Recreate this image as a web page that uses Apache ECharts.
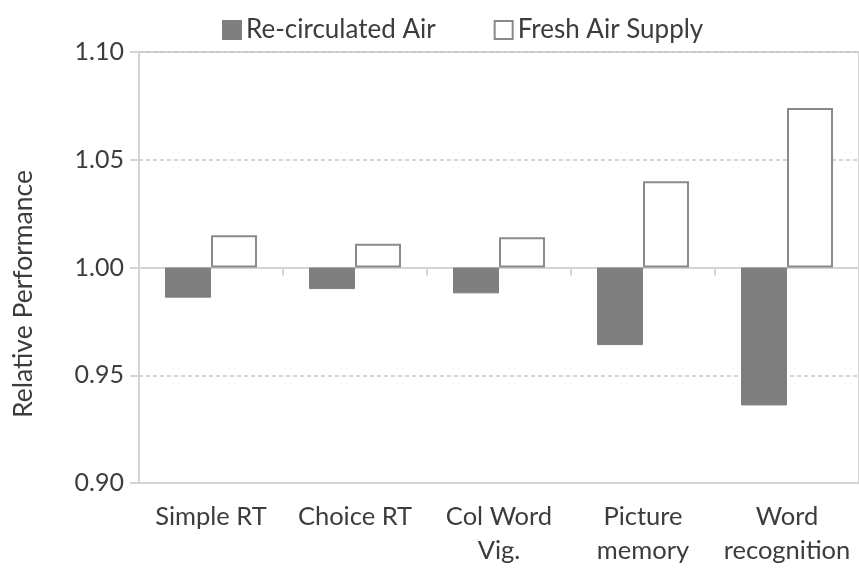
<!DOCTYPE html>
<html><head><meta charset="utf-8">
<script src="https://cdn.jsdelivr.net/npm/echarts@6/dist/echarts.min.js"></script>
<style>html,body{margin:0;padding:0;background:#fff}#c{width:859px;height:568px}</style>
</head><body><div id="c"></div>
<script>
const categories = ['Simple RT', 'Choice RT', 'Col Word\nVig.', 'Picture\nmemory', 'Word\nrecognition'];
const recirculated = [0.986, 0.990, 0.988, 0.964, 0.936];
const freshAir = [1.015, 1.011, 1.014, 1.040, 1.074];
const baseline = 1.0;
const yTicks = { min: 0.90, max: 1.10, step: 0.05 };

const FONT = 'Lato';
const TXT = '#3c3c3c';
const LINE = '#d4d4d4';

const chart = echarts.init(document.getElementById('c'), null, { renderer: 'canvas' });
chart.setOption({
  animation: false,
  backgroundColor: '#fff',
  grid: { left: 139, top: 52, width: 723, height: 432, show: true, borderColor: LINE, borderWidth: 2, containLabel: false },
  legend: {
    left: 217, top: 12, itemWidth: 18, itemHeight: 18, itemGap: 58, icon: 'rect',
    textStyle: { fontFamily: FONT, fontSize: 26, color: TXT, padding: [0, 0, 0, 0] },
    data: ['Re-circulated Air', 'Fresh Air Supply']
  },
  graphic: [{
    type: 'text', x: 23, y: 294, rotation: Math.PI / 2,
    style: { text: 'Relative Performance', fontFamily: FONT, fontSize: 26.5, fill: TXT, align: 'center', verticalAlign: 'middle' }
  }],
  xAxis: [
    {
      type: 'category', data: categories, position: 'bottom',
      axisLine: { show: false, onZero: false }, axisTick: { show: false },
      axisLabel: { interval: 0, fontFamily: FONT, fontSize: 25.5, color: TXT, lineHeight: 34, margin: 17 }
    },
    {
      type: 'category', data: categories, position: 'top',
      axisLine: { show: true, onZero: true, onZeroAxisIndex: 0, lineStyle: { color: LINE, width: 2 } },
      axisTick: { show: true, inside: true, length: 8, interval: 0, lineStyle: { color: LINE, width: 2 } },
      axisLabel: { show: false }, splitLine: { show: false }
    }
  ],
  yAxis: {
    type: 'value',
    min: yTicks.min - baseline, max: yTicks.max - baseline, interval: yTicks.step,
    axisLine: { show: true, lineStyle: { color: LINE, width: 2 } },
    axisTick: { show: true, length: 9, lineStyle: { color: LINE, width: 2 } },
    axisLabel: { fontFamily: FONT, fontSize: 25, color: TXT, margin: 15, formatter: v => (baseline + v).toFixed(2) },
    splitLine: { show: true, showMinLine: false, showMaxLine: false, lineStyle: { color: '#c8c8c8', type: [4, 3], width: 1.5 } }
  },
  series: [
    {
      name: 'Re-circulated Air', type: 'bar', xAxisIndex: 0, barWidth: 46, barGap: '0%',
      itemStyle: { color: '#7f7f7f', borderColor: '#7f7f7f', borderWidth: 1 },
      data: recirculated.map(v => +(v - baseline).toFixed(4))
    },
    {
      name: 'Fresh Air Supply', type: 'bar', xAxisIndex: 0, barWidth: 46, barGap: '0%',
      itemStyle: { color: '#ffffff', borderColor: '#8a8a8a', borderWidth: 2 },
      data: freshAir.map(v => +(v - baseline).toFixed(4))
    }
  ]
});
</script></body></html>
